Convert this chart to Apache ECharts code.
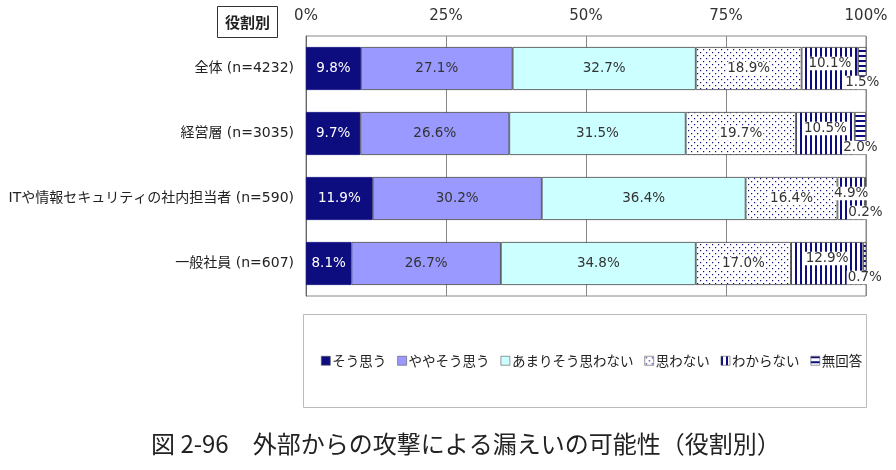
<!DOCTYPE html>
<html>
<head>
<meta charset="utf-8">
<script src="https://cdn.jsdelivr.net/npm/echarts@6/dist/echarts.min.js"></script>
<style>
html,body{margin:0;padding:0;background:#fff;}
#c{width:896px;height:470px;}
</style>
</head>
<body>
<div id="c"></div>
<script>
const categories = ['全体 (n=4232)', '経営層 (n=3035)', 'ITや情報セキュリティの社内担当者 (n=590)', '一般社員 (n=607)'];
const seriesNames = ['そう思う', 'ややそう思う', 'あまりそう思わない', '思わない', 'わからない', '無回答'];
const soOmou = [9.8, 9.7, 11.9, 8.1];
const yayaSoOmou = [27.1, 26.6, 30.2, 26.7];
const amariSoOmowanai = [32.7, 31.5, 36.4, 34.8];
const omowanai = [18.9, 19.7, 16.4, 17.0];
const wakaranai = [10.1, 10.5, 4.9, 12.9];
const mukaitou = [1.5, 2.0, 0.2, 0.7];
const tickValues = [0, 25, 50, 75, 100];

const NAVY = '#0d0d80';
function pattern(kind) {
  const c = document.createElement('canvas');
  const s = kind === 'dots' ? 6 : 5;
  c.width = s; c.height = s;
  const g = c.getContext('2d');
  g.fillStyle = '#ffffff'; g.fillRect(0, 0, s, s);
  g.fillStyle = NAVY;
  if (kind === 'dots') {
    g.fillRect(1, 1, 1.2, 1.2);
    g.fillRect(4, 4, 1.2, 1.2);
  } else if (kind === 'v') {
    g.fillRect(0, 0, 2, s);
  } else {
    g.fillRect(0, 0, s, 2);
  }
  return { image: c, repeat: 'repeat' };
}

const FONT = '"DejaVu Sans", "Noto Sans CJK JP", sans-serif';
const JFONT = '"Noto Sans CJK JP", sans-serif';
const fills = [NAVY, '#9999ff', '#ccffff', pattern('dots'), pattern('v'), pattern('h')];
const dataSets = [soOmou, yayaSoOmou, amariSoOmowanai, omowanai, wakaranai, mukaitou];
const labelDy = [0, 0, 0, 0, -5, 14];

const series = dataSets.map((d, i) => {
  const label = {
    show: true,
    position: 'inside',
    fontFamily: FONT,
    fontSize: 13.5,
    color: i === 0 ? '#ffffff' : '#333333',
    formatter: p => p.value.toFixed(1) + '%'
  };
  if (i >= 3) { label.backgroundColor = '#fff'; label.padding = [0, 1]; }
  return {
    name: seriesNames[i],
    type: 'bar',
    stack: 'total',
    barWidth: 43,
    data: d,
    itemStyle: { color: fills[i], borderColor: i === 0 ? NAVY : '#444', borderWidth: 0.8 },
    label: label,
    labelLayout: { dy: labelDy[i], hideOverlap: false },
    emphasis: { disabled: true }
  };
});

const chart = echarts.init(document.getElementById('c'));
chart.setOption({
  animation: false,
  backgroundColor: '#ffffff',
  textStyle: { fontFamily: FONT },
  title: [
    {
      text: '役割別', left: 217, top: 6,
      borderColor: '#333', borderWidth: 1, padding: [9, 8, 8, 8],
      textStyle: { fontSize: 15, fontWeight: 'bold', color: '#222', fontFamily: JFONT }
    },
    {
      text: '図 2-96　外部からの攻撃による漏えいの可能性（役割別）', left: 146, top: 427,
      textStyle: { fontSize: 24, fontWeight: 'normal', color: '#222', fontFamily: JFONT }
    }
  ],
  grid: { left: 306, right: 30, top: 36, bottom: 174, show: true, borderColor: '#888', borderWidth: 1, outerBoundsMode: 'none', containLabel: false },
  xAxis: {
    type: 'value', position: 'top', min: tickValues[0], max: tickValues[tickValues.length - 1], interval: 25,
    axisLine: { show: false }, axisTick: { show: false },
    axisLabel: { formatter: '{value}%', fontSize: 15, color: '#333', margin: 12, fontFamily: FONT },
    splitLine: { show: true, lineStyle: { color: '#888', width: 1 } }
  },
  yAxis: {
    type: 'category', inverse: true, data: categories,
    axisLine: { show: true, lineStyle: { color: '#666' } }, axisTick: { show: false },
    axisLabel: { fontSize: 14, color: '#222', margin: 12, fontFamily: FONT }
  },
  legend: {
    data: seriesNames, left: 316, top: 349, width: 560,
    itemWidth: 9, itemHeight: 9, itemGap: 11,
    icon: 'rect',
    itemStyle: { borderColor: '#555', borderWidth: 0.6 },
    textStyle: { fontSize: 13.5, color: '#222', fontFamily: JFONT, padding: [0, 0, 0, -3] }
  },
  graphic: [
    { type: 'rect', shape: { x: 303.5, y: 314.5, width: 563, height: 93 }, style: { fill: 'none', stroke: '#bbb', lineWidth: 1 }, z: -1 }
  ],
  series: series
});
</script>
</body>
</html>
